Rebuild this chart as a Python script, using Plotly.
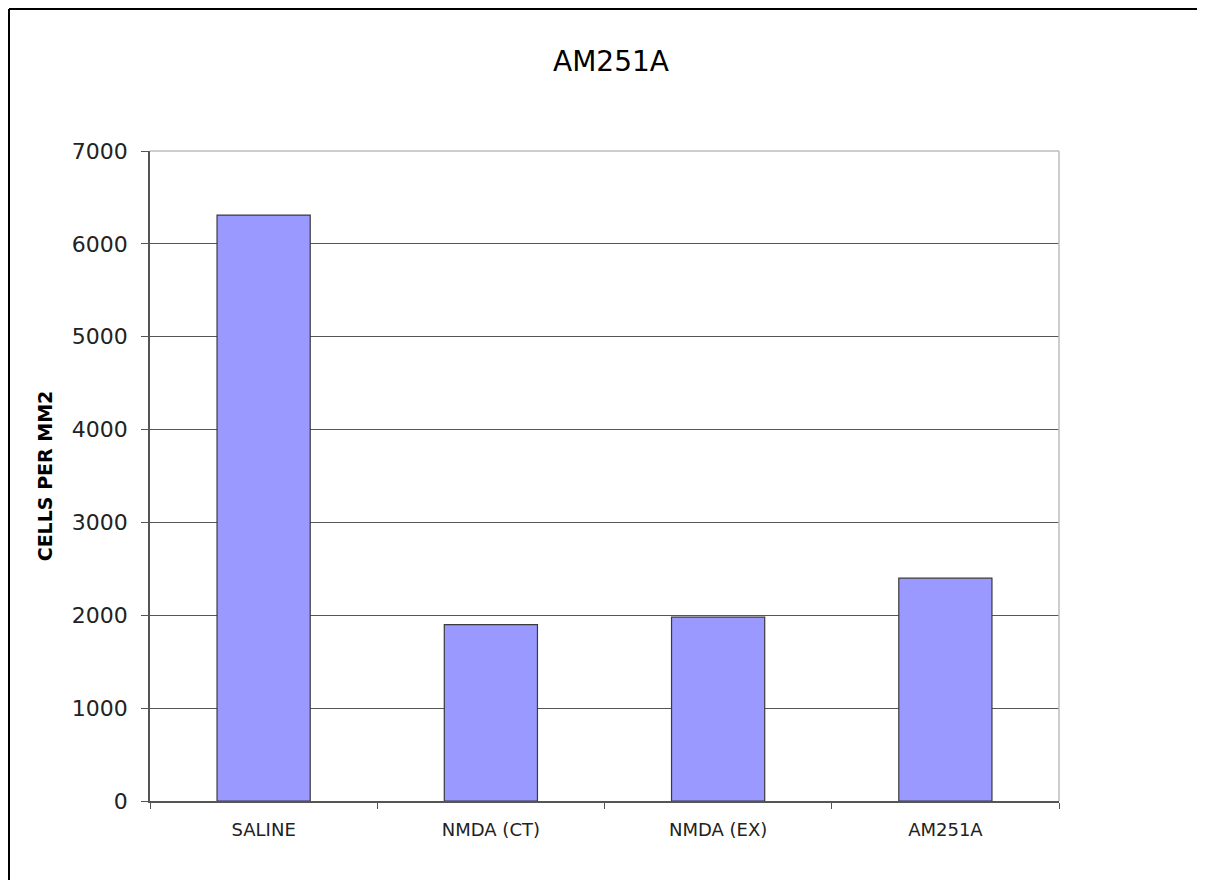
import plotly.graph_objects as go

categories = ["SALINE", "NMDA (CT)", "NMDA (EX)", "AM251A"]
cells_per_mm2 = [6310, 1900, 1980, 2400]
y_ticks = [0, 1000, 2000, 3000, 4000, 5000, 6000, 7000]

OFF = 8  # default page body margin
W, H = 1205 - OFF, 880 - OFF
L, T = 150 - OFF, 151 - OFF
R = W - (1059 - OFF)
B = H - (801 - OFF)
pw, ph = W - L - R, H - T - B

fig = go.Figure(go.Bar(
    x=categories, y=cells_per_mm2, width=0.41,
    marker=dict(color="#9999ff", line=dict(color="#3a3a3a", width=1.2)),
))

font = "DejaVu Sans"
fig.update_layout(
    width=W, height=H,
    margin=dict(l=L, r=R, t=T, b=B),
    paper_bgcolor="white", plot_bgcolor="white",
    showlegend=False,
    title=dict(text="AM251A", x=(611 - OFF) / W, xref="container",
               y=1 - (61 - OFF) / H, yref="container", xanchor="center", yanchor="middle",
               font=dict(family=font, size=28, color="black")),
    font=dict(family=font, color="#222"),
)
fig.update_yaxes(
    range=[0, 7000], tickvals=y_ticks, ticktext=[str(v) for v in y_ticks],
    showgrid=True, gridcolor="#555555", gridwidth=1,
    showline=True, linecolor="#555555", linewidth=1.5,
    zeroline=False, ticks="outside", ticklen=7, tickcolor="#555555",
    ticklabelstandoff=9,
    tickfont=dict(family=font, size=22, color="#222"),
    title=dict(text="<b>CELLS PER MM2</b>", font=dict(family=font, size=19, color="black"),
               standoff=14),
)
fig.update_xaxes(
    showgrid=False, showline=True, linecolor="#555555", linewidth=1.5,
    ticks="outside", tickson="boundaries", ticklen=6, tickcolor="#555555",
    tickfont=dict(family=font, size=18, color="#222"),
    ticklabelstandoff=12,
)

def fx(x):
    # figure pixel x -> paper
    return (x - L) / pw

def fy(y):
    # figure pixel y -> paper
    return 1 - (y - T) / ph

# light plot frame (top and right edges)
fig.add_shape(type="line", xref="paper", yref="paper", x0=0, x1=1, y0=1, y1=1,
              line=dict(color="#bdbdbd", width=1.5), layer="above")
fig.add_shape(type="line", xref="paper", yref="paper", x0=1, x1=1, y0=0, y1=1,
              line=dict(color="#bdbdbd", width=1.5), layer="above")
# outer chart border (left and top edges visible)
fig.add_shape(type="line", xref="paper", yref="paper", x0=fx(1), x1=fx(W + 5),
              y0=fy(1), y1=fy(1), line=dict(color="black", width=2))
fig.add_shape(type="line", xref="paper", yref="paper", x0=fx(1), x1=fx(1),
              y0=fy(1), y1=fy(H + 5), line=dict(color="black", width=2))

fig.write_html("out.html")
